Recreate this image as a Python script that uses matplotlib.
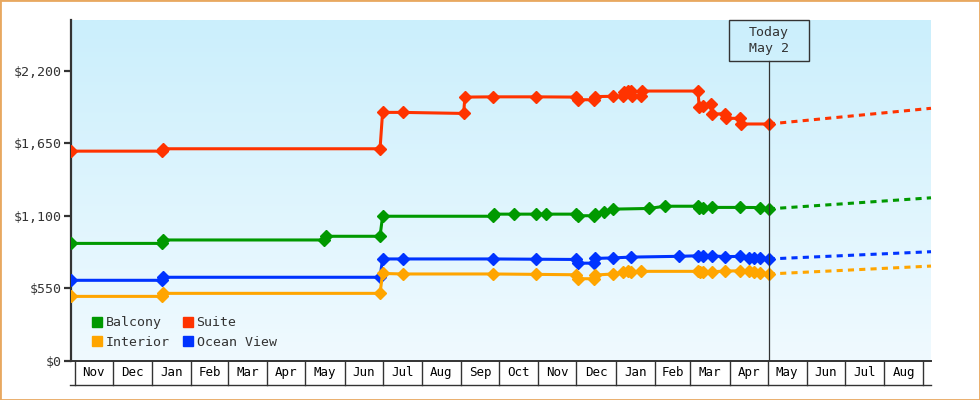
import numpy as np
import pandas as pd
import matplotlib
matplotlib.use("Agg")
import matplotlib.pyplot as plt
import matplotlib.dates as mdates
from matplotlib.colors import LinearSegmentedColormap
from matplotlib.patches import Rectangle, Patch

plt.rcParams['font.family'] = ['DejaVu Sans Mono']

# price history per cabin type
suite_dates = ["2023-10-29", "2024-01-09", "2024-01-10", "2024-06-29", "2024-07-01", "2024-07-17",
               "2024-09-03", "2024-09-04", "2024-09-26", "2024-10-30", "2024-12-01", "2024-12-02",
               "2024-12-15", "2024-12-16", "2024-12-30", "2025-01-07", "2025-01-08", "2025-01-11",
               "2025-01-13", "2025-01-14", "2025-01-21", "2025-01-22", "2025-03-07", "2025-03-08",
               "2025-03-11", "2025-03-17", "2025-03-18", "2025-03-28", "2025-03-29", "2025-04-09",
               "2025-04-10", "2025-05-02"]
suite_prices = [1590, 1590, 1608, 1608, 1884, 1884,
                1876, 2000, 2002, 2002, 2000, 1980,
                1980, 2004, 2006, 2008, 2040, 2048,
                2048, 2012, 2012, 2046, 2046, 1927,
                1930, 1948, 1870, 1875, 1839, 1839,
                1796, 1796]

balcony_dates = ["2023-10-29", "2024-01-09", "2024-01-10", "2024-05-16", "2024-05-17", "2024-06-29",
                 "2024-07-01", "2024-09-26", "2024-09-27", "2024-10-13", "2024-10-30", "2024-11-07",
                 "2024-12-01", "2024-12-02", "2024-12-15", "2024-12-16", "2024-12-23", "2024-12-30",
                 "2025-01-27", "2025-02-09", "2025-03-07", "2025-03-08", "2025-03-11", "2025-03-18",
                 "2025-04-09", "2025-04-25", "2025-05-02"]
balcony_prices = [890, 890, 916, 916, 944, 944,
                  1096, 1096, 1112, 1112, 1112, 1112,
                  1112, 1100, 1100, 1112, 1128, 1150,
                  1155, 1172, 1172, 1160, 1158, 1163,
                  1163, 1162, 1152]

ocean_dates = ["2023-10-29", "2024-01-09", "2024-01-10", "2024-06-29", "2024-07-01", "2024-07-17",
               "2024-09-26", "2024-10-30", "2024-12-01", "2024-12-02", "2024-12-15", "2024-12-16",
               "2024-12-30", "2025-01-13", "2025-02-20", "2025-03-07", "2025-03-11", "2025-03-18",
               "2025-03-28", "2025-04-09", "2025-04-16", "2025-04-20", "2025-04-25", "2025-05-02"]
ocean_prices = [610, 610, 633, 633, 772, 772,
                772, 770, 768, 740, 740, 776,
                780, 786, 792, 796, 794, 795,
                790, 791, 782, 778, 782, 772]

interior_dates = ["2023-10-29", "2024-01-09", "2024-01-10", "2024-06-29", "2024-07-01", "2024-07-17",
                  "2024-09-26", "2024-10-30", "2024-12-01", "2024-12-02", "2024-12-15", "2024-12-16",
                  "2024-12-30", "2025-01-07", "2025-01-11", "2025-01-13", "2025-01-21", "2025-03-07",
                  "2025-03-09", "2025-03-11", "2025-03-18", "2025-03-28", "2025-04-09", "2025-04-16",
                  "2025-04-20", "2025-04-25", "2025-05-02"]
interior_prices = [488, 488, 511, 511, 662, 658,
                   658, 655, 652, 622, 622, 650,
                   658, 670, 678, 676, 678, 678,
                   672, 676, 675, 680, 682, 680,
                   672, 668, 658]

# projection from today to end of chart
today = "2025-05-02"
proj_end = "2025-09-07"
proj_suite = [1796, 1915]
proj_balcony = [1152, 1236]
proj_ocean = [772, 827]
proj_interior = [658, 718]

y_ticks = [0, 550, 1100, 1650, 2200]
month_starts = pd.date_range("2023-11-01", "2025-09-01", freq="MS")

colors = {"Balcony": "#009900", "Suite": "#ff3300", "Ocean View": "#0033ff", "Interior": "#ffa500"}
dark = "#333333"

fig = plt.figure(figsize=(9.8, 4), dpi=100)
ax = fig.add_axes([71/980, 39.3/400, 860/980, 340.7/400])

x0 = mdates.date2num(pd.Timestamp("2023-10-29"))
x1 = mdates.date2num(pd.Timestamp(proj_end))
ax.set_xlim(x0, x1)
ax.set_ylim(0, 2585)

# gradient background
grad = np.linspace(0, 1, 256).reshape(-1, 1)
cmap = LinearSegmentedColormap.from_list("bg", ["#f0faff", "#cbeffc"])
ax.imshow(grad, cmap=cmap, origin="lower", aspect="auto",
          extent=[x0, x1, 0, 2585], zorder=0)

series = [
    ("Suite", suite_dates, suite_prices, proj_suite),
    ("Balcony", balcony_dates, balcony_prices, proj_balcony),
    ("Ocean View", ocean_dates, ocean_prices, proj_ocean),
    ("Interior", interior_dates, interior_prices, proj_interior),
]
for name, d, p, proj in series:
    dd = pd.to_datetime(d)
    ax.plot(dd, p, color=colors[name], lw=2.2, marker="D", ms=5.8,
            zorder=3, solid_joinstyle="miter")
    ax.plot(pd.to_datetime([today, proj_end]), proj, color=colors[name], lw=2.2,
            linestyle=(0, (2, 1.7)), zorder=3, clip_on=False)

# today marker
tx = mdates.date2num(pd.Timestamp(today))
tfrac = (tx - x0) / (x1 - x0)
box_h = 40.7 / 340.7
ax.plot([tx, tx], [0, 1 - box_h], color=dark, lw=0.9,
        transform=ax.get_xaxis_transform(), zorder=4)
ax.add_patch(Rectangle((tfrac - 40/860, 1 - box_h), 80/860, box_h, transform=ax.transAxes,
                       fill=False, edgecolor=dark, lw=1, zorder=5, clip_on=False))
ax.text(tfrac, 1 - box_h/2, "Today\nMay 2", transform=ax.transAxes, ha="center", va="center",
        fontsize=9.5, color=dark, linespacing=1.35, zorder=5)

# axes styling
for s in ["top", "right"]:
    ax.spines[s].set_visible(False)
ax.spines["left"].set_color(dark)
ax.spines["left"].set_linewidth(1.6)
ax.spines["bottom"].set_color(dark)
ax.spines["bottom"].set_linewidth(1.4)
ax.set_yticks(y_ticks)
ax.set_yticklabels(["$" + format(v, ",") for v in y_ticks])
ax.tick_params(axis="y", direction="out", length=5, width=1.6, color=dark,
               labelcolor=dark, labelsize=9.5, pad=2)
ax.set_xticks([])

# month boxes below the axis
trans = ax.get_xaxis_transform()
box_bottom = -24.3 / 340.7
for m in month_starts:
    mx = mdates.date2num(m)
    ax.plot([mx, mx], [0, box_bottom], color=dark, lw=1, transform=trans, clip_on=False)
for a, b in zip(month_starts[:-1], month_starts[1:]):
    mid = (mdates.date2num(a) + mdates.date2num(b)) / 2
    ax.text(mid, box_bottom / 2, a.strftime("%b"), transform=trans, ha="center", va="center",
            fontsize=9, color="black", clip_on=False)
ax.plot([x0 - 1, x1], [box_bottom, box_bottom], color=dark, lw=1, transform=trans, clip_on=False)

# legend
handles = [Patch(color=colors[n]) for n in ["Balcony", "Interior", "Suite", "Ocean View"]]
ax.legend(handles, ["Balcony", "Interior", "Suite", "Ocean View"], ncol=2, loc="lower left",
          bbox_to_anchor=(0.024, 0.035), frameon=False, fontsize=9.5, handlelength=0.8,
          handleheight=0.8, handletextpad=0.25, columnspacing=1.0, labelspacing=0.5,
          borderpad=0, borderaxespad=0, labelcolor=dark)

# outer border
fig.patches.append(Rectangle((0, 0), 1, 1, transform=fig.transFigure, fill=False,
                             edgecolor="#e8a860", lw=2))

fig.savefig("out.png", dpi=100)
